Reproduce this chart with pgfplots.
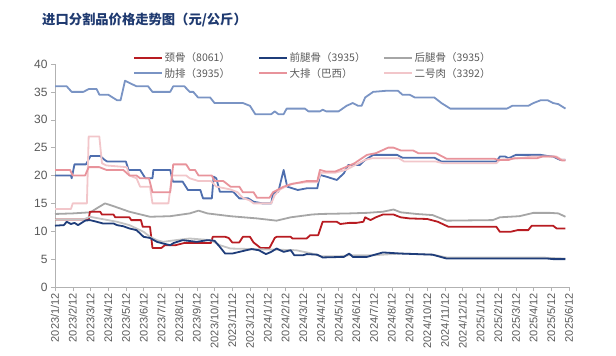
\documentclass[border=0pt]{standalone}
\usepackage{pgfplots}
\pgfplotsset{compat=1.18}
\usepackage{fontspec}
\setmainfont{Liberation Sans}
\newfontfamily\cjk{Noto Sans CJK SC}
\definecolor{cRed}{HTML}{B81C22}
\definecolor{cNavy}{HTML}{1F3D7A}
\definecolor{cGray}{HTML}{A6A6A6}
\definecolor{cGray2}{HTML}{C4C4C4}
\definecolor{cRib}{HTML}{7A94C4}
\definecolor{cBlue}{HTML}{4E6EAE}
\definecolor{cPink}{HTML}{E8939B}
\definecolor{cLPink}{HTML}{F2C6CA}
\definecolor{cTxt}{HTML}{595959}
\definecolor{cTitle}{HTML}{1F3A70}
\begin{document}
\begin{tikzpicture}
\useasboundingbox (-55pt,-69pt) rectangle (561pt,287pt);
\node[anchor=west,text=cTitle,inner sep=0pt] at (-13pt,267pt) {\cjk\bfseries\fontsize{13.3}{16}\selectfont 进口分割品价格走势图（元/公斤）};
\begin{axis}[
  at={(0pt,0pt)}, anchor=south west,
  scale only axis, width=514pt, height=223pt,
  xmin=0, xmax=29, ymin=0, ymax=40,
  axis lines*=left,
  axis line style={-, color=gray!60},
  tick style={color=gray!60, thin},
  tick align=outside,
  major tick length=4pt,
  ytick={0,5,...,40},
  xtick={0,...,29},
  xticklabels={2023/1/12,2023/2/12,2023/3/12,2023/4/12,2023/5/12,2023/6/12,2023/7/12,2023/8/12,2023/9/12,2023/10/12,2023/11/12,2023/12/12,2024/1/12,2024/2/12,2024/3/12,2024/4/12,2024/5/12,2024/6/12,2024/7/12,2024/8/12,2024/9/12,2024/10/12,2024/11/12,2024/12/12,2025/1/12,2025/2/12,2025/3/12,2025/4/12,2025/5/12,2025/6/12},
  x tick label style={rotate=90, anchor=east, font=\fontsize{11}{12}\selectfont, text=cTxt, inner sep=2pt},
  y tick label style={font=\fontsize{12}{13}\selectfont, text=cTxt},
  /pgf/number format/assume math mode=true,
  legend columns=3,
  legend cell align=left,
  legend image code/.code={\draw[#1] (0pt,0pt) -- (28pt,0pt);},
  legend style={at={(0.146,1.068)}, anchor=north west, draw=none, fill=none,
    font=\cjk\fontsize{10.5}{11}\selectfont, text=cTxt,
    nodes={inner sep=1.5pt, text width=92pt},
    row sep=2pt,
    /tikz/every even column/.append style={column sep=0pt}},
  every axis plot/.append style={line width=1.8pt, line join=round},
  clip=false,
]
\addlegendimage{cRed, line width=2pt}\addlegendentry{颈骨（8061）}
\addlegendimage{cNavy, line width=2pt}\addlegendentry{前腿骨（3935）}
\addlegendimage{cGray, line width=2pt}\addlegendentry{后腿骨（3935）}
\addlegendimage{cRib, line width=2pt}\addlegendentry{肋排（3935）}
\addlegendimage{cPink, line width=2pt}\addlegendentry{大排（巴西）}
\addlegendimage{cLPink, line width=2pt}\addlegendentry{二号肉（3392）}
% 肋排
\addplot[cRib, forget plot] coordinates {(0,36) (0.66,36) (0.94,35) (1.6,35) (1.9,35.5) (2.35,35.5) (2.5,34.5) (3.0,34.5) (3.5,33.5) (3.7,33.5) (3.95,37) (4.2,36.6) (4.6,36) (5.25,36) (5.5,35) (6.5,35) (6.67,36) (7.3,36) (7.6,35) (7.8,35) (8.07,34) (8.75,34) (9.0,33) (10.6,33) (11.0,32.5) (11.3,31) (12.2,31) (12.4,31.5) (12.6,31) (12.9,31) (13.07,32) (14.1,32) (14.3,31.5) (14.95,31.5) (15.1,31.8) (15.3,31.5) (16.0,31.5) (16.45,32.5) (16.8,33) (17.1,32.5) (17.3,32.5) (17.5,34) (17.95,35) (18.7,35.2) (19.35,35.2) (19.6,34.5) (20.0,34.5) (20.3,34) (21.4,34) (21.8,33) (22.3,32) (25.5,32) (25.8,32.5) (26.7,32.5) (27.0,33) (27.4,33.5) (27.8,33.5) (28.1,33) (28.4,32.8) (28.8,32)};
% blue (20)
\addplot[cBlue, forget plot] coordinates {(0,20) (0.9,20) (0.94,19.5) (1.1,22) (1.75,22) (2.0,23.5) (2.55,23.5) (2.8,22.8) (2.95,22.5) (4.0,22.5) (4.15,21) (4.8,21) (5.1,19.5) (5.5,19.5) (5.55,21) (6.5,21) (6.65,18.9) (7.2,18.9) (7.5,17.4) (8.2,17.4) (8.35,15.9) (8.85,15.9) (8.95,19.8) (9.1,19.5) (9.3,17.1) (10.05,17.1) (10.4,15.9) (10.9,15.9) (11.2,15.3) (11.7,15) (12.2,15) (12.3,16.8) (12.6,17.1) (12.9,21) (13.1,18) (13.7,17.4) (14.2,17.7) (14.8,17.7) (14.95,20.1) (15.3,19.8) (15.9,19.2) (16.3,20.4) (16.55,21.9) (17.2,21.9) (17.5,22.8) (17.96,23.7) (19.3,23.7) (19.6,23.2) (21.4,23.2) (21.8,22.5) (24.9,22.5) (25.1,23.4) (25.4,23.4) (25.6,23.1) (26.0,23.7) (27.4,23.7) (27.8,23.5) (28.1,23.4) (28.5,22.8) (28.8,22.8)};
% 二号肉
\addplot[cLPink, forget plot] coordinates {(0,14) (0.9,14) (1.0,15) (1.8,15) (1.9,27) (2.5,27) (2.65,22.2) (2.9,21.8) (4.05,21.5) (4.2,20) (4.6,19.5) (4.8,18) (5.36,18) (5.5,15) (6.4,15) (6.6,20) (7.4,20) (7.6,19.5) (8.1,19) (8.8,19) (9.1,18) (9.9,17.5) (10.3,17) (10.6,16) (11.0,15.5) (11.2,15) (12.2,15) (12.4,16.5) (12.7,17.5) (13.3,18.5) (14.2,18.8) (14.8,18.8) (15.0,20.5) (15.8,20.5) (16.4,21) (16.9,21.8) (17.5,22.8) (17.9,23.1) (19.4,23.1) (19.7,22.5) (21.5,22.5) (21.9,22.2) (24.9,22.2) (25.1,22.8) (26.2,23.1) (26.9,23.4) (28.3,23.4) (28.6,22.8) (28.8,22.8)};
% 大排
\addplot[cPink, forget plot] coordinates {(0,21) (0.85,21) (1.0,20) (1.7,20) (1.9,21.5) (2.5,21.5) (2.9,21) (3.85,21) (4.2,20) (4.6,20) (4.8,19.5) (5.3,19.5) (5.5,17) (6.5,17) (6.67,22) (7.4,22) (7.6,21) (7.9,21) (8.1,20) (8.85,20) (9.0,19) (9.5,19) (9.9,18) (10.4,18) (10.6,17) (11.2,17) (11.4,16) (12.1,16) (12.3,17) (12.9,18) (13.4,18.5) (14.2,19) (14.8,19) (14.95,21) (15.3,20.7) (15.8,20.7) (16.4,21.5) (16.9,22.2) (17.6,23.7) (18.1,24) (18.8,25) (19.1,25) (19.5,24.5) (20.2,24.5) (20.5,24) (21.5,24) (22.1,23) (24.8,23) (25.0,22.8) (25.6,22.8) (25.9,23.1) (27.2,23.1) (27.5,23.4) (28.2,23.4) (28.6,22.7) (28.8,22.7)};
% 后腿骨
\addplot[cGray, forget plot] coordinates {(0,13.1) (1.0,13.2) (2.0,13.4) (2.35,14.1) (2.82,15.0) (3.3,14.5) (4.2,13.5) (5.36,12.6) (6.5,12.7) (7.6,13.2) (8.1,13.7) (8.6,13.2) (9.9,12.7) (11.4,12.3) (12.5,11.9) (13.3,12.5) (14.5,13.0) (15.0,13.1) (16.6,13.2) (17.6,13.3) (18.5,13.5) (19.1,13.9) (19.5,13.4) (20.4,13.1) (21.3,12.9) (22.1,11.9) (24.7,12.0) (25.1,12.5) (26.2,12.7) (27.0,13.3) (27.9,13.3) (28.4,13.2) (28.8,12.6)};
% 颈骨
\addplot[cRed, forget plot] coordinates {(0,12.1) (1.9,12.1) (1.97,13.5) (2.55,13.5) (2.65,13.0) (3.3,13.0) (3.4,12.5) (4.2,12.5) (4.3,12.0) (4.85,12.0) (4.95,10.8) (5.36,10.8) (5.5,7.0) (6.0,7.0) (6.2,7.5) (6.8,7.5) (7.3,7.9) (8.8,7.9) (8.9,9.0) (9.6,9.0) (9.8,8.8) (10.0,8.0) (10.4,8.0) (10.6,9.0) (11.0,9.0) (11.2,8.0) (11.6,7.0) (12.1,7.0) (12.4,8.8) (12.5,9.0) (13.3,9.0) (13.4,8.7) (14.2,8.7) (14.4,9.3) (14.85,9.3) (15.1,11.7) (15.9,11.7) (16.1,11.3) (16.6,11.5) (17.0,11.5) (17.4,11.7) (17.5,12.5) (17.8,12.0) (18.1,12.5) (18.5,13.0) (19.1,13.0) (19.5,12.5) (20.0,12.3) (21.0,12.2) (21.6,11.7) (22.2,10.8) (24.9,10.8) (25.1,9.9) (25.7,9.9) (26.1,10.2) (26.7,10.2) (26.9,11.0) (28.1,11.0) (28.3,10.5) (28.8,10.5)};
% lower gray
\addplot[cGray2, forget plot] coordinates {(0,12.1) (1.6,12.1) (1.97,12.6) (2.3,12.4) (3.5,11.7) (4.2,11.1) (5.0,9.9) (5.36,9.0) (5.75,8.4) (6.1,8.1) (6.8,8.4) (7.6,8.7) (8.8,8.4) (9.3,7.5) (9.9,6.9) (13.6,6.6) (14.5,6.0) (15.0,5.5) (16.0,5.5) (16.6,5.7) (18.0,5.7) (19.5,6.0) (20.5,5.9) (21.3,5.8) (22.1,5.3) (27.5,5.3) (28.0,5.2) (28.8,5.1)};
% 前腿骨
\addplot[cNavy, forget plot] coordinates {(0,11.0) (0.5,11.1) (0.66,11.7) (0.9,11.3) (1.1,11.5) (1.3,11.1) (1.7,11.9) (1.97,12.0) (2.35,11.7) (2.7,11.4) (3.3,11.4) (3.5,11.1) (3.85,10.9) (4.2,10.5) (4.6,10.2) (5.0,9.0) (5.36,8.8) (5.75,8.1) (6.1,7.8) (6.5,7.5) (6.7,7.9) (7.2,8.4) (8.0,8.1) (8.6,8.4) (9.0,8.3) (9.3,7.2) (9.6,6.0) (10.0,6.0) (10.4,6.3) (10.8,6.6) (11.1,6.8) (11.5,6.6) (11.9,5.9) (12.2,6.3) (12.5,6.9) (12.7,6.6) (12.9,6.3) (13.3,6.6) (13.5,5.7) (14.0,5.7) (14.2,5.9) (14.8,5.8) (15.1,5.3) (16.3,5.4) (16.6,6.0) (16.8,5.4) (17.6,5.4) (18.5,6.2) (19.5,6.0) (20.4,5.9) (21.3,5.8) (22.1,5.1) (27.8,5.1) (28.1,5.0) (28.8,5.0)};
\end{axis}
\end{tikzpicture}
\end{document}
